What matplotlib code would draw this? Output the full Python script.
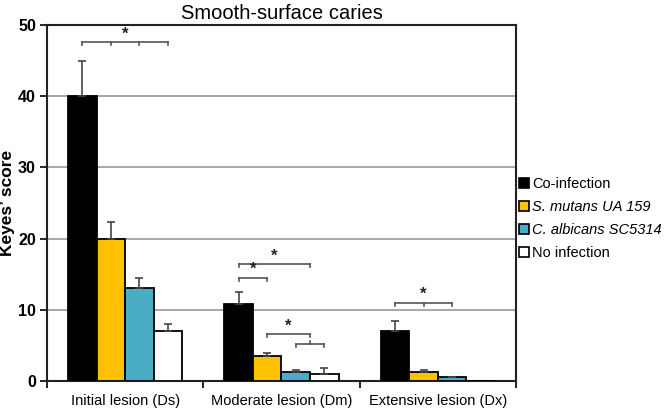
import matplotlib
matplotlib.use("Agg")
import matplotlib.pyplot as plt
from matplotlib.lines import Line2D
import numpy as np

plt.rcParams['font.family'] = ['Liberation Sans', 'DejaVu Sans']

categories = ["Initial lesion (Ds)", "Moderate lesion (Dm)", "Extensive lesion (Dx)"]
series = ["Co-infection", "S. mutans UA 159", "C. albicans SC5314", "No infection"]
colors = ["#000000", "#FFC000", "#4BACC6", "#FFFFFF"]
values = [
    [40.0, 10.8, 7.0],   # Co-infection
    [20.0, 3.5, 1.3],    # S. mutans
    [13.0, 1.3, 0.5],    # C. albicans
    [7.0, 1.0, 0.0],     # No infection
]
errors = [
    [4.9, 1.7, 1.4],
    [2.3, 0.5, 0.3],
    [1.5, 0.3, 0.1],
    [1.0, 0.8, 0.0],
]
# significance brackets: (group, bar positions (can be fractional), y level, middle-tick-up, star)
brackets = [
    (0, [0, 1, 2, 3], 47.6, False, True),
    (1, [0, 1], 14.5, False, True),
    (1, [0, 2.5], 16.4, False, True),
    (1, [1, 2.5], 6.6, False, True),
    (1, [2, 3], 5.2, True, False),
    (2, [0, 1, 2], 11.0, False, True),
]

fig = plt.figure(figsize=(6.66, 4.08), dpi=100)
ax = fig.add_axes([47/666, 27/408, (516-47)/666, (381-25)/408])

w = 0.183
x = np.arange(len(categories))
def bar_x(g, b):
    return g + (b - 1.5) * w

for i, (s, c) in enumerate(zip(series, colors)):
    xs = x + (i - 1.5) * w
    ax.bar(xs, values[i], width=w, color=c, edgecolor="black", linewidth=1.3, zorder=3, label=s)
    yerr = np.array([np.zeros(3), errors[i]])
    mask = np.array(errors[i]) > 0
    ax.errorbar(xs[mask], np.array(values[i])[mask], yerr=yerr[:, mask], fmt="none",
                ecolor="#444444", elinewidth=1.2, capsize=3, capthick=1.2, zorder=4)

tick = 0.45
for g, pos, yl, midup, star in brackets:
    xs = [bar_x(g, p) for p in pos]
    ax.plot([xs[0], xs[-1]], [yl, yl], color="#555555", lw=1.2, zorder=5, clip_on=False)
    for xx in [xs[0], xs[-1]] + xs[1:-1]:
        ax.plot([xx, xx], [yl, yl - tick], color="#555555", lw=1.2, zorder=5)
    if midup:
        xm = (xs[0] + xs[-1]) / 2
        ax.plot([xm, xm], [yl, yl + tick], color="#555555", lw=1.2, zorder=5)
    if star:
        xm = (xs[0] + xs[-1]) / 2
        ax.text(xm, yl + 0.1, "*", ha="center", va="bottom", fontsize=12,
                fontweight="bold", color="#222222", zorder=6)

ax.set_xlim(-0.5, 2.5)
ax.set_ylim(0, 50)
ax.set_yticks([0, 10, 20, 30, 40, 50])
ax.set_yticklabels(["0", "10", "20", "30", "40", "50"], fontweight="bold", fontsize=11.5)
ax.yaxis.grid(True, color="#A0A0A0", linewidth=1.3, zorder=0)
ax.set_axisbelow(True)

ax.set_xticks([-0.5, 0.5, 1.5, 2.5])
ax.set_xticklabels([])
ax.set_xticks(x, minor=True)
ax.set_xticklabels(categories, minor=True, fontsize=10.5)
ax.tick_params(axis="x", which="minor", length=0, pad=9)
ax.tick_params(axis="x", which="major", direction="out", length=5, width=1.2)
ax.tick_params(axis="y", direction="out", length=5, width=1.2, pad=3)

for sp in ax.spines.values():
    sp.set_linewidth(1.5)
    sp.set_color("#222222")

ax.set_ylabel("Keyes\u2019 score", fontsize=12.5, fontweight="bold")
ax.yaxis.set_label_coords(-(47 - 15) / 469, 0.5)
ax.set_title("Smooth-surface caries", fontsize=14.5, pad=4)

handles = [Line2D([0], [0], marker="s", linestyle="none", markersize=7,
                  markerfacecolor=c, markeredgecolor="black", markeredgewidth=1.2)
           for c in colors]
leg = fig.legend(handles, series, loc="upper left", bbox_to_anchor=(512/666, 1 - 171/408),
                 frameon=False, fontsize=10.5, handlelength=0.8, handletextpad=0.2,
                 labelspacing=0.62, borderaxespad=0)
for i, t in enumerate(leg.get_texts()):
    if i in (1, 2):
        t.set_style("italic")

fig.savefig("out.png", dpi=100)
